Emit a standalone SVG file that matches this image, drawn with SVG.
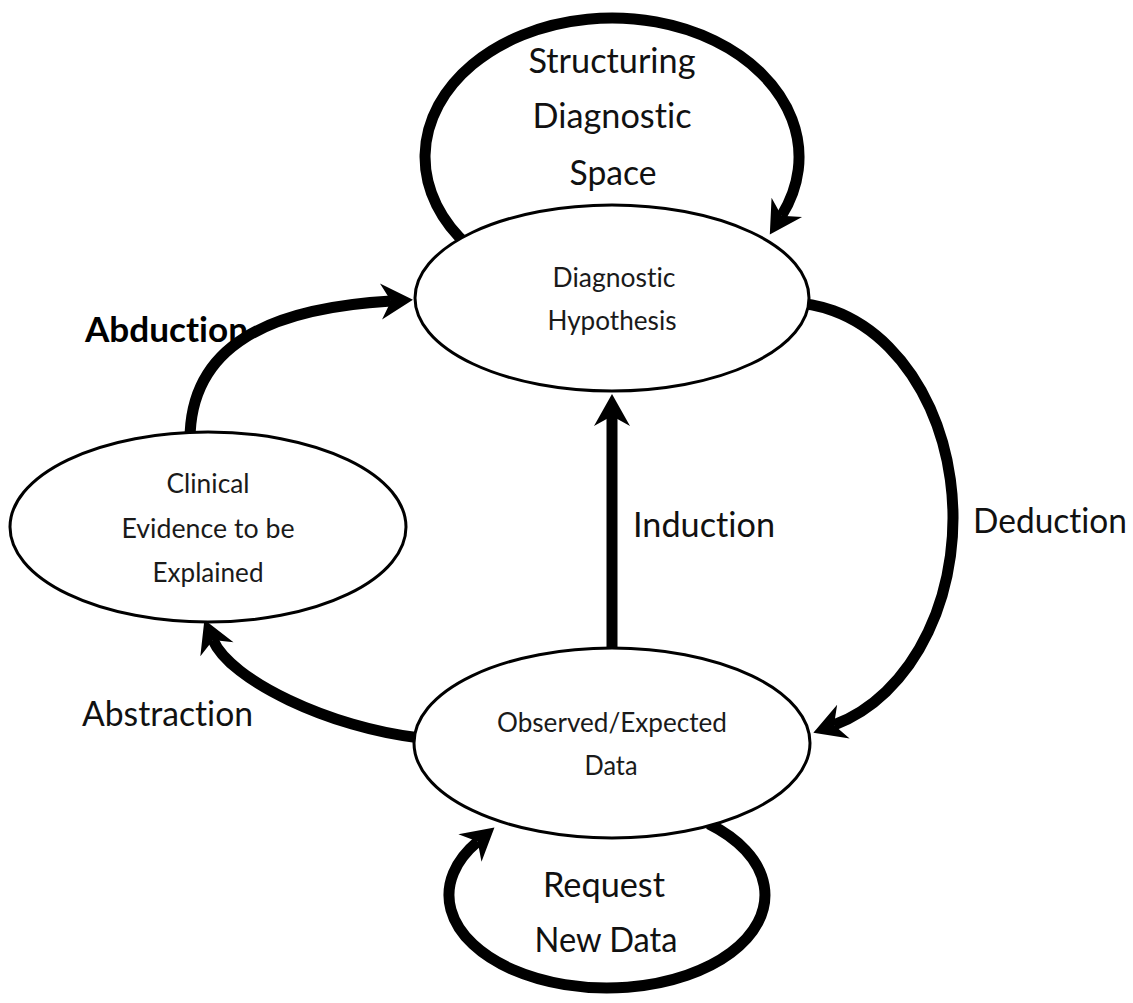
<svg xmlns="http://www.w3.org/2000/svg" width="1133" height="1003" viewBox="0 0 1133 1003">
  <style>
    text { font-variant-ligatures: none; font-feature-settings: "liga" 0; }
    .node ellipse { fill: #ffffff; stroke: #000000; stroke-width: 3; }
    .node text { font-family: Lato, "Liberation Sans", sans-serif; font-size: 27px; fill: #1a1a1a; text-anchor: middle; }
    .edge { fill: none; stroke: #000000; stroke-width: 11; marker-end: url(#head); }
    .label { font-family: Lato, "Liberation Sans", sans-serif; font-size: 35px; fill: #111111; }
    .mid { text-anchor: middle; }
    .bold { font-weight: bold; fill: #000000; }
  </style>
  <defs>
    <marker id="head" markerUnits="userSpaceOnUse" viewBox="0 -20 40 40" markerWidth="40" markerHeight="40" refX="10" refY="0" orient="auto" overflow="visible">
      <path d="M0,-18 L32,0 L0,18 L10,0 Z" fill="#000000"/>
    </marker>
  </defs>
  <rect width="1133" height="1003" fill="#ffffff"/>

  <g id="connectors">
    <!-- Structuring Diagnostic Space: loop on the hypothesis node -->
    <path class="edge" d="M468.8,246.4 A187,139 0 1 1 781.5,215.8"/>
    <!-- Abduction: evidence -> hypothesis -->
    <path class="edge" d="M190,440 C190,345 270,308 391,301"/>
    <!-- Deduction: hypothesis -> data -->
    <path class="edge" d="M775.8,303.8 A163,215 0 0 1 834,725"/>
    <!-- Induction: data -> hypothesis -->
    <path class="edge" d="M612,655 L612,416"/>
    <!-- Abstraction: data -> evidence -->
    <path class="edge" d="M420,738 C330,728 230,680 213,640"/>
    <!-- Request New Data: loop on the data node -->
    <path class="edge" d="M708.6,823.8 A158,93 0 1 1 477.6,841.6"/>
  </g>

  <g id="node-hypothesis" class="node">
    <ellipse cx="612" cy="298" rx="197" ry="93"/>
    <text x="614" y="287" textLength="123" lengthAdjust="spacingAndGlyphs">Diagnostic</text>
    <text x="612" y="330" textLength="129" lengthAdjust="spacingAndGlyphs">Hypothesis</text>
  </g>

  <g id="node-evidence" class="node">
    <ellipse cx="208" cy="527" rx="198" ry="95"/>
    <text x="208" y="493" textLength="83" lengthAdjust="spacingAndGlyphs">Clinical</text>
    <text x="208" y="538" textLength="173" lengthAdjust="spacingAndGlyphs">Evidence to be</text>
    <text x="208" y="582" textLength="111" lengthAdjust="spacingAndGlyphs">Explained</text>
  </g>

  <g id="node-data" class="node">
    <ellipse cx="612" cy="743" rx="198" ry="95"/>
    <text x="612" y="732" textLength="230" lengthAdjust="spacingAndGlyphs">Observed/Expected</text>
    <text x="611" y="775" textLength="53" lengthAdjust="spacingAndGlyphs">Data</text>
  </g>

  <g id="labels">
    <text class="label mid" x="612" y="73" textLength="167" lengthAdjust="spacingAndGlyphs">Structuring</text>
    <text class="label mid" x="612" y="128" textLength="159" lengthAdjust="spacingAndGlyphs">Diagnostic</text>
    <text class="label mid" x="613" y="185" textLength="87" lengthAdjust="spacingAndGlyphs">Space</text>
    <text class="label bold" x="85" y="342" textLength="163" lengthAdjust="spacingAndGlyphs">Abduction</text>
    <text class="label" x="633" y="537" textLength="142" lengthAdjust="spacingAndGlyphs">Induction</text>
    <text class="label" x="973" y="533" textLength="154" lengthAdjust="spacingAndGlyphs">Deduction</text>
    <text class="label" x="82" y="726" textLength="171" lengthAdjust="spacingAndGlyphs">Abstraction</text>
    <text class="label mid" x="604" y="897" textLength="122" lengthAdjust="spacingAndGlyphs">Request</text>
    <text class="label mid" x="606" y="952" textLength="143" lengthAdjust="spacingAndGlyphs">New Data</text>
  </g>
</svg>
